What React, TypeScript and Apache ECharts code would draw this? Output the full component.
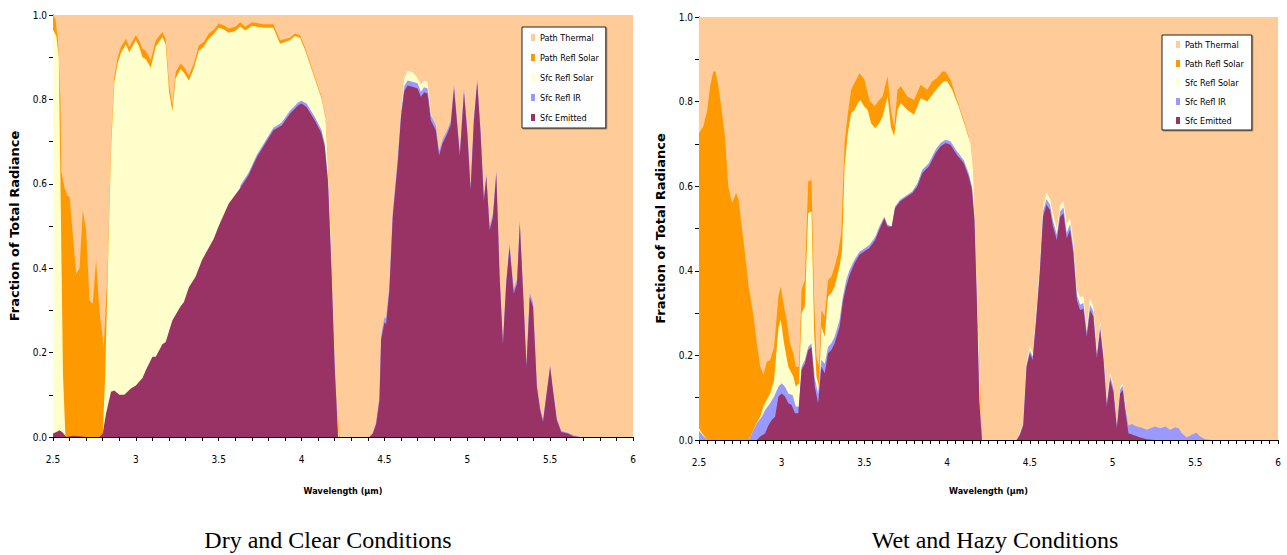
import React, { useEffect, useRef } from "react";
import * as echarts from "echarts";

type P = [number, number];

const seriesNames = ["Path Thermal", "Path Refl Solar", "Sfc Refl Solar", "Sfc Refl IR", "Sfc Emitted"];
const seriesColors = ["#FFCC99", "#FF9900", "#FFFFCC", "#9999FF", "#993366"];
const panelTitles = ["Dry and Clear Conditions", "Wet and Hazy Conditions"];
const xAxisTitle = "Wavelength (\u00b5m)";
const yAxisTitle = "Fraction of Total Radiance";

// Upper boundary of each stacked layer (cumulative fraction)
const dryPathThermalTop: P[] = [[2.5, 1], [6, 1]];
const dryPathSolarTop: P[] = [
  [2.5, 1.0], [2.515, 0.99], [2.53, 0.94], [2.545, 0.8], [2.55, 0.63], [2.57, 0.59], [2.59, 0.57], [2.6, 0.57],
  [2.64, 0.387], [2.66, 0.4], [2.68, 0.537], [2.7, 0.49], [2.72, 0.324], [2.74, 0.316], [2.76, 0.42], [2.78, 0.3],
  [2.806, 0.213], [2.83, 0.4], [2.85, 0.695], [2.87, 0.853], [2.89, 0.9], [2.91, 0.924], [2.94, 0.944], [2.96, 0.924],
  [3.0, 0.952], [3.02, 0.94], [3.04, 0.92], [3.06, 0.915], [3.09, 0.893], [3.12, 0.94], [3.16, 0.96], [3.18, 0.944],
  [3.2, 0.837], [3.22, 0.786], [3.24, 0.865], [3.27, 0.885], [3.29, 0.877], [3.32, 0.857], [3.35, 0.885], [3.38, 0.928],
  [3.41, 0.936], [3.44, 0.956], [3.47, 0.965], [3.5, 0.98], [3.53, 0.976], [3.56, 0.968], [3.6, 0.972], [3.63, 0.983],
  [3.66, 0.972], [3.7, 0.983], [3.77, 0.978], [3.83, 0.978], [3.87, 0.94], [3.93, 0.946], [3.96, 0.956], [3.99, 0.952],
  [4.02, 0.924], [4.06, 0.877], [4.1, 0.83], [4.12, 0.806], [4.145, 0.758], [4.17, 0.56], [4.19, 0.32], [4.21, 0.087],
  [4.23, 0], [6, 0],
];
const drySfcSolarTop: P[] = [
  [2.5, 0.965], [2.52, 0.95], [2.535, 0.9], [2.545, 0.6], [2.56, 0.15], [2.575, 0], [2.8, 0], [2.815, 0.15],
  [2.83, 0.38], [2.85, 0.68], [2.87, 0.84], [2.89, 0.885], [2.91, 0.91], [2.94, 0.93], [2.96, 0.912], [3.0, 0.94],
  [3.02, 0.925], [3.04, 0.9], [3.06, 0.895], [3.09, 0.875], [3.12, 0.925], [3.16, 0.948], [3.18, 0.93], [3.2, 0.82],
  [3.22, 0.772], [3.24, 0.85], [3.27, 0.872], [3.29, 0.863], [3.32, 0.845], [3.35, 0.873], [3.38, 0.915], [3.41, 0.925],
  [3.44, 0.944], [3.47, 0.955], [3.5, 0.97], [3.53, 0.966], [3.56, 0.958], [3.6, 0.962], [3.63, 0.973], [3.66, 0.963],
  [3.7, 0.974], [3.77, 0.97], [3.83, 0.97], [3.87, 0.932], [3.93, 0.94], [3.96, 0.95], [3.99, 0.946], [4.02, 0.918],
  [4.06, 0.872], [4.1, 0.826], [4.12, 0.802], [4.145, 0.754], [4.17, 0.555], [4.19, 0.315], [4.21, 0.083], [4.225, 0],
  [4.55, 0], [4.58, 0.64], [4.6, 0.77], [4.62, 0.85], [4.64, 0.867], [4.67, 0.865], [4.7, 0.85], [4.72, 0.835],
  [4.74, 0.845], [4.76, 0.842], [4.78, 0.77], [4.8, 0.7], [4.83, 0], [6, 0],
];
const dryReflIRTop: P[] = [
  [2.5, 0], [3.62, 0], [3.63, 0.596], [3.68, 0.626], [3.73, 0.669], [3.78, 0.701], [3.83, 0.733], [3.88, 0.745],
  [3.93, 0.773], [3.98, 0.793], [4.0, 0.797], [4.03, 0.79], [4.08, 0.758], [4.12, 0.728], [4.14, 0.695], [4.16, 0.608],
  [4.18, 0.406], [4.2, 0.17], [4.22, 0],
  [4.41, 0], [4.43, 0.01], [4.45, 0.035], [4.47, 0.095], [4.48, 0.24], [4.5, 0.284], [4.51, 0.28], [4.53, 0.358],
  [4.55, 0.53], [4.58, 0.658], [4.6, 0.768], [4.62, 0.832], [4.64, 0.845], [4.67, 0.842], [4.7, 0.838], [4.72, 0.818],
  [4.74, 0.829], [4.76, 0.826], [4.78, 0.762], [4.81, 0.738], [4.83, 0.677], [4.85, 0.704], [4.88, 0.728], [4.9, 0.748],
  [4.92, 0.836], [4.955, 0.674], [4.98, 0.826], [5.0, 0.728], [5.02, 0.592], [5.04, 0.757], [5.06, 0.848], [5.08, 0.727],
  [5.1, 0.567], [5.115, 0.624], [5.135, 0.499], [5.155, 0.53], [5.175, 0.632], [5.195, 0.386], [5.215, 0.226],
  [5.235, 0.37], [5.255, 0.458], [5.28, 0.35], [5.3, 0.373], [5.317, 0.513], [5.337, 0.347], [5.357, 0.172],
  [5.377, 0.342], [5.397, 0.318], [5.42, 0.124], [5.44, 0.068], [5.457, 0.04], [5.5, 0.17], [5.517, 0.114],
  [5.54, 0.044], [5.567, 0.014], [5.607, 0.01], [5.64, 0.004], [5.68, 0], [6, 0],
];
const dryEmittedTop: P[] = [
  [2.5, 0.008], [2.52, 0.012], [2.54, 0.016], [2.56, 0.01], [2.58, 0], [2.62, 0.003], [2.66, 0.002], [2.7, 0],
  [2.78, 0], [2.8, 0.008], [2.82, 0.055], [2.85, 0.107], [2.87, 0.11], [2.9, 0.1], [2.93, 0.1], [2.97, 0.115],
  [3.0, 0.122], [3.04, 0.14], [3.06, 0.158], [3.1, 0.19], [3.12, 0.19], [3.16, 0.22], [3.18, 0.225], [3.22, 0.276],
  [3.27, 0.31], [3.29, 0.32], [3.32, 0.355], [3.36, 0.38], [3.4, 0.42], [3.47, 0.47], [3.5, 0.5], [3.56, 0.553],
  [3.63, 0.59], [3.68, 0.62], [3.73, 0.663], [3.78, 0.695], [3.83, 0.727], [3.88, 0.738], [3.93, 0.766], [3.98, 0.786],
  [4.0, 0.79], [4.03, 0.782], [4.08, 0.75], [4.12, 0.72], [4.14, 0.687], [4.16, 0.6], [4.18, 0.4], [4.2, 0.166],
  [4.22, 0],
  [4.41, 0], [4.43, 0.008], [4.45, 0.03], [4.47, 0.087], [4.48, 0.23], [4.5, 0.272], [4.51, 0.268], [4.53, 0.348],
  [4.55, 0.52], [4.58, 0.648], [4.6, 0.758], [4.62, 0.82], [4.64, 0.833], [4.67, 0.83], [4.7, 0.826], [4.72, 0.806],
  [4.74, 0.817], [4.76, 0.814], [4.78, 0.75], [4.81, 0.727], [4.83, 0.667], [4.85, 0.695], [4.88, 0.72], [4.9, 0.74],
  [4.92, 0.826], [4.955, 0.667], [4.98, 0.816], [5.0, 0.72], [5.02, 0.585], [5.04, 0.75], [5.06, 0.84], [5.08, 0.72],
  [5.1, 0.56], [5.115, 0.616], [5.135, 0.49], [5.155, 0.52], [5.175, 0.624], [5.195, 0.38], [5.215, 0.22],
  [5.235, 0.363], [5.255, 0.45], [5.28, 0.34], [5.3, 0.363], [5.317, 0.505], [5.337, 0.34], [5.357, 0.166],
  [5.377, 0.332], [5.397, 0.308], [5.42, 0.118], [5.44, 0.063], [5.457, 0.036], [5.5, 0.166], [5.517, 0.11],
  [5.54, 0.04], [5.567, 0.012], [5.607, 0.008], [5.64, 0.002], [5.68, 0], [6, 0],
];

const wetPathThermalTop: P[] = [[2.5, 1], [6, 1]];
const wetPathSolarTop: P[] = [
  [2.5, 0.726], [2.526, 0.741], [2.55, 0.78], [2.567, 0.836], [2.587, 0.871], [2.6, 0.871], [2.617, 0.836],
  [2.637, 0.78], [2.657, 0.718], [2.677, 0.6], [2.7, 0.56], [2.724, 0.584], [2.74, 0.568], [2.758, 0.505],
  [2.778, 0.442], [2.8, 0.363], [2.83, 0.292], [2.85, 0.229], [2.87, 0.173], [2.89, 0.154], [2.91, 0.185],
  [2.93, 0.189], [2.954, 0.22], [2.98, 0.34], [2.994, 0.363], [3.014, 0.315], [3.03, 0.284], [3.05, 0.229],
  [3.07, 0.205], [3.085, 0.173], [3.105, 0.173], [3.12, 0.355], [3.14, 0.378], [3.16, 0.611], [3.18, 0.615],
  [3.196, 0.331], [3.21, 0.197], [3.226, 0.173], [3.24, 0.307], [3.26, 0.292], [3.28, 0.378], [3.3, 0.386],
  [3.32, 0.41], [3.34, 0.44], [3.36, 0.49], [3.38, 0.702], [3.4, 0.773], [3.42, 0.828], [3.44, 0.844], [3.47, 0.867],
  [3.5, 0.852], [3.53, 0.804], [3.56, 0.789], [3.59, 0.804], [3.61, 0.812], [3.64, 0.86], [3.66, 0.78], [3.68, 0.74],
  [3.7, 0.828], [3.72, 0.836], [3.76, 0.812], [3.8, 0.804], [3.84, 0.84], [3.88, 0.828], [3.91, 0.848], [3.94, 0.856],
  [3.97, 0.871], [3.99, 0.871], [4.02, 0.852], [4.06, 0.804], [4.1, 0.757], [4.13, 0.718], [4.15, 0.662], [4.17, 0.49],
  [4.19, 0.252], [4.21, 0], [6, 0],
];
const wetSfcSolarTop: P[] = [
  [2.5, 0.028], [2.52, 0.015], [2.55, 0], [2.8, 0], [2.82, 0.016], [2.85, 0.042], [2.87, 0.055], [2.89, 0.08],
  [2.91, 0.095], [2.93, 0.11], [2.954, 0.142], [2.98, 0.264], [2.994, 0.284], [3.014, 0.229], [3.04, 0.173],
  [3.07, 0.15], [3.085, 0.126], [3.105, 0.134], [3.12, 0.3], [3.14, 0.315], [3.16, 0.536], [3.18, 0.54],
  [3.196, 0.252], [3.21, 0.15], [3.226, 0.126], [3.24, 0.268], [3.26, 0.244], [3.28, 0.339], [3.3, 0.347],
  [3.32, 0.363], [3.35, 0.41], [3.365, 0.45], [3.38, 0.647], [3.4, 0.726], [3.42, 0.773], [3.44, 0.78], [3.46, 0.796],
  [3.475, 0.804], [3.5, 0.788], [3.52, 0.78], [3.54, 0.749], [3.565, 0.737], [3.59, 0.749], [3.61, 0.765],
  [3.64, 0.812], [3.66, 0.74], [3.68, 0.718], [3.7, 0.78], [3.72, 0.796], [3.76, 0.78], [3.8, 0.769], [3.84, 0.808],
  [3.88, 0.8], [3.91, 0.816], [3.95, 0.836], [3.98, 0.848], [4.0, 0.848], [4.03, 0.828], [4.07, 0.788], [4.11, 0.74],
  [4.14, 0.702], [4.155, 0.647], [4.17, 0.49], [4.19, 0.252], [4.205, 0],
  [4.42, 0], [4.46, 0.04], [4.48, 0.185], [4.5, 0.222], [4.517, 0.205], [4.54, 0.31], [4.56, 0.415], [4.58, 0.55],
  [4.6, 0.585], [4.622, 0.57], [4.64, 0.535], [4.663, 0.5], [4.683, 0.555], [4.703, 0.565], [4.723, 0.51],
  [4.743, 0.525], [4.763, 0.47], [4.784, 0.355], [4.804, 0.338], [4.824, 0.34], [4.844, 0.27], [4.864, 0.335],
  [4.884, 0.315], [4.905, 0.215], [4.925, 0.28], [4.945, 0.208], [4.965, 0.095], [4.985, 0.16], [5.005, 0.13],
  [5.026, 0.038], [5.046, 0.125], [5.062, 0.134], [5.076, 0.085], [5.096, 0.03], [5.1, 0], [6, 0],
];
const wetReflIRTop: P[] = [
  [2.5, 0.022], [2.52, 0.012], [2.55, 0], [2.8, 0], [2.82, 0.016], [2.85, 0.04], [2.88, 0.055], [2.9, 0.071],
  [2.93, 0.087], [2.954, 0.103], [2.98, 0.126], [3.0, 0.134], [3.02, 0.126], [3.04, 0.11], [3.067, 0.106],
  [3.085, 0.079], [3.105, 0.079], [3.12, 0.173], [3.14, 0.19], [3.16, 0.22], [3.18, 0.229], [3.2, 0.146], [3.22, 0.11],
  [3.24, 0.19], [3.26, 0.18], [3.28, 0.22], [3.3, 0.229], [3.32, 0.244], [3.35, 0.284], [3.37, 0.339], [3.39, 0.378],
  [3.41, 0.402], [3.44, 0.426], [3.47, 0.445], [3.5, 0.453], [3.53, 0.461], [3.565, 0.48], [3.59, 0.505], [3.62, 0.528],
  [3.64, 0.509], [3.665, 0.505], [3.685, 0.552], [3.715, 0.568], [3.76, 0.58], [3.79, 0.588], [3.82, 0.607],
  [3.85, 0.639], [3.89, 0.655], [3.93, 0.686], [3.96, 0.702], [3.99, 0.71], [4.02, 0.706], [4.06, 0.682], [4.1, 0.662],
  [4.13, 0.631], [4.15, 0.6], [4.165, 0.528], [4.18, 0.331], [4.195, 0.095], [4.21, 0],
  [4.42, 0], [4.44, 0.016], [4.46, 0.038], [4.48, 0.178], [4.5, 0.213], [4.517, 0.197], [4.54, 0.3], [4.56, 0.404],
  [4.58, 0.54], [4.6, 0.57], [4.622, 0.556], [4.64, 0.518], [4.663, 0.486], [4.683, 0.54], [4.703, 0.55],
  [4.723, 0.49], [4.743, 0.51], [4.763, 0.455], [4.784, 0.343], [4.804, 0.32], [4.824, 0.324], [4.844, 0.256],
  [4.864, 0.32], [4.884, 0.304], [4.905, 0.205], [4.925, 0.272], [4.945, 0.2], [4.965, 0.088], [4.985, 0.152],
  [5.005, 0.124], [5.026, 0.034], [5.046, 0.12], [5.062, 0.128], [5.076, 0.08], [5.096, 0.035], [5.117, 0.038],
  [5.147, 0.032], [5.177, 0.029], [5.207, 0.024], [5.237, 0.029], [5.257, 0.032], [5.288, 0.028], [5.318, 0.032],
  [5.348, 0.024], [5.378, 0.03], [5.399, 0.028], [5.419, 0.016], [5.449, 0.006], [5.475, 0.012], [5.505, 0.017],
  [5.53, 0.008], [5.56, 0.002], [5.6, 0], [6, 0],
];
const wetEmittedTop: P[] = [
  [2.5, 0], [2.85, 0], [2.87, 0.008], [2.9, 0.016], [2.92, 0.035], [2.94, 0.047], [2.96, 0.055], [2.98, 0.103],
  [3.0, 0.11], [3.02, 0.103], [3.04, 0.087], [3.06, 0.083], [3.08, 0.063], [3.1, 0.063], [3.12, 0.166], [3.14, 0.18],
  [3.16, 0.213], [3.18, 0.22], [3.2, 0.126], [3.22, 0.087], [3.24, 0.173], [3.26, 0.158], [3.28, 0.205], [3.3, 0.213],
  [3.32, 0.229], [3.35, 0.268], [3.37, 0.328], [3.39, 0.363], [3.41, 0.39], [3.44, 0.418], [3.47, 0.438], [3.5, 0.446],
  [3.53, 0.454], [3.565, 0.473], [3.59, 0.497], [3.62, 0.524], [3.64, 0.505], [3.665, 0.505], [3.685, 0.548],
  [3.715, 0.564], [3.76, 0.576], [3.79, 0.584], [3.82, 0.6], [3.85, 0.631], [3.89, 0.647], [3.93, 0.678], [3.96, 0.694],
  [3.99, 0.702], [4.02, 0.698], [4.06, 0.674], [4.1, 0.655], [4.13, 0.623], [4.15, 0.592], [4.165, 0.52],
  [4.18, 0.323], [4.195, 0.085], [4.21, 0],
  [4.42, 0], [4.44, 0.012], [4.46, 0.035], [4.48, 0.173], [4.5, 0.205], [4.517, 0.189], [4.54, 0.292], [4.56, 0.394],
  [4.58, 0.528], [4.6, 0.556], [4.622, 0.544], [4.64, 0.505], [4.663, 0.473], [4.683, 0.528], [4.703, 0.536],
  [4.723, 0.477], [4.743, 0.497], [4.763, 0.442], [4.784, 0.331], [4.804, 0.307], [4.824, 0.311], [4.844, 0.244],
  [4.864, 0.307], [4.884, 0.292], [4.905, 0.193], [4.925, 0.26], [4.945, 0.189], [4.965, 0.079], [4.985, 0.142],
  [5.005, 0.114], [5.026, 0.028], [5.046, 0.11], [5.062, 0.118], [5.076, 0.071], [5.096, 0.016], [5.126, 0.012],
  [5.167, 0.006], [5.207, 0.002], [5.25, 0], [6, 0],
];

const dryLayers = [dryPathThermalTop, dryPathSolarTop, drySfcSolarTop, dryReflIRTop, dryEmittedTop];
const wetLayers = [wetPathThermalTop, wetPathSolarTop, wetSfcSolarTop, wetReflIRTop, wetEmittedTop];

const NARROW = '"Liberation Sans Narrow", "Arial Narrow", "DejaVu Sans Condensed", "Liberation Sans", sans-serif';
const WIDE_BOLD = '"DejaVu Sans", "Liberation Sans", Arial, sans-serif';
const SERIF = '"Liberation Serif", "Times New Roman", serif';

export default function App() {
  const ref = useRef<HTMLDivElement>(null);
  useEffect(() => {
    if (!ref.current) return;
    const chart = echarts.init(ref.current, undefined, { renderer: "svg" });
    const grids = [
      { left: 53, right: 654, top: 15, bottom: 118 },
      { left: 699, right: 9, top: 17, bottom: 115 },
    ];
    const xAxes = [0, 1].map((i) => ({
      type: "value",
      gridIndex: i,
      min: 2.5,
      max: 6,
      interval: 0.5,
      name: xAxisTitle,
      nameLocation: "middle",
      nameGap: i === 0 ? 49 : 46,
      nameTextStyle: { fontFamily: NARROW, fontSize: 9, fontWeight: "bold", color: "#000" },
      axisLine: { show: true, onZero: false, lineStyle: { color: "#000", width: 1 } },
      axisTick: { show: true, length: 4, lineStyle: { color: "#000" } },
      minorTick: { show: true, splitNumber: i === 0 ? 5 : 10, length: 4, lineStyle: { color: "#000" } },
      splitLine: { show: false },
      minorSplitLine: { show: false },
      axisLabel: { margin: 17, fontFamily: NARROW, fontSize: 10, color: "#000" },
    }));
    const yAxes = [0, 1].map((i) => ({
      type: "value",
      gridIndex: i,
      min: 0,
      max: 1,
      interval: 0.2,
      name: yAxisTitle,
      nameLocation: "middle",
      nameGap: 32,
      nameTextStyle: { fontFamily: WIDE_BOLD, fontSize: 13, fontWeight: "bold", color: "#000" },
      axisLine: { show: true, lineStyle: { color: "#000", width: 1 } },
      axisTick: { show: true, length: 4, lineStyle: { color: "#000" } },
      minorTick: { show: true, splitNumber: 2, length: 4, lineStyle: { color: "#000" } },
      splitLine: { show: false },
      minorSplitLine: { show: false },
      axisLabel: { margin: 6, fontFamily: NARROW, fontSize: 10, color: "#000", formatter: (v: number) => v.toFixed(1) },
    }));
    const series: any[] = [];
    [dryLayers, wetLayers].forEach((layers, p) => {
      layers.forEach((data, j) => {
        series.push({
          type: "line",
          name: seriesNames[j],
          xAxisIndex: p,
          yAxisIndex: p,
          data,
          symbol: "none",
          showSymbol: false,
          silent: true,
          lineStyle: { width: 0, color: seriesColors[j] },
          itemStyle: { color: seriesColors[j] },
          areaStyle: { color: seriesColors[j], opacity: 1 },
          z: 2,
        });
      });
    });
    const legendBase = {
      orient: "vertical",
      data: seriesNames,
      selectedMode: false,
      icon: "rect",
      itemWidth: 4,
      itemHeight: 7,
      backgroundColor: "#fff",
      borderColor: "#222",
      borderWidth: 1,
      shadowColor: "rgba(0,0,0,0.35)",
      shadowOffsetX: 1,
      shadowOffsetY: 1,
      shadowBlur: 1,
      itemStyle: { borderWidth: 0 },
      textStyle: { fontFamily: NARROW, fontSize: 9, color: "#000" },
    };
    chart.setOption({
      animation: false,
      backgroundColor: "#fff",
      grid: grids,
      xAxis: xAxes,
      yAxis: yAxes,
      legend: [
        { ...legendBase, left: 522, top: 27, itemGap: 11, padding: [6, 7, 6, 9] },
        { ...legendBase, left: 1162, top: 35, itemGap: 10, padding: [5, 8, 5, 14] },
      ],
      series,
      graphic: [
        {
          type: "text",
          x: 328,
          y: 540,
          style: { text: panelTitles[0], font: `24px ${SERIF}`, fill: "#000", align: "center", verticalAlign: "middle" },
        },
        {
          type: "text",
          x: 995,
          y: 540,
          style: { text: panelTitles[1], font: `24px ${SERIF}`, fill: "#000", align: "center", verticalAlign: "middle" },
        },
      ],
    });
    return () => chart.dispose();
  }, []);
  return (
    <div
      ref={ref}
      style={{ position: "fixed", left: 0, top: 0, width: 1287, height: 555, background: "#fff" }}
    />
  );
}
